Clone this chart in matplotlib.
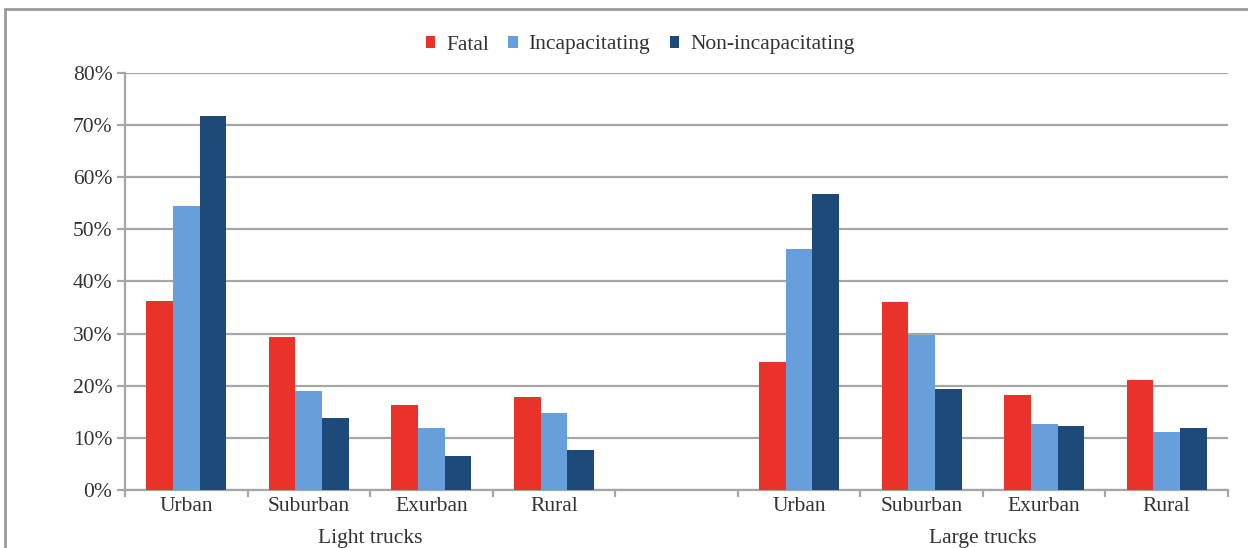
import matplotlib
matplotlib.use("Agg")
import matplotlib.pyplot as plt
from matplotlib.patches import Rectangle
import numpy as np

# Share of crashes by area type, light vs large trucks
areas = ["Urban", "Suburban", "Exurban", "Rural"]
groups = ["Light trucks", "Large trucks"]
series = ["Fatal", "Incapacitating", "Non-incapacitating"]

light_fatal = [36.3, 29.3, 16.3, 17.8]
light_incap = [54.4, 19.0, 11.8, 14.8]
light_nonincap = [71.8, 13.8, 6.6, 7.7]

large_fatal = [24.5, 36.0, 18.2, 21.1]
large_incap = [46.2, 29.7, 12.6, 11.1]
large_nonincap = [56.8, 19.3, 12.2, 11.8]

y_ticks = [0, 10, 20, 30, 40, 50, 60, 70, 80]

colors = ["#E8322A", "#679FDA", "#1D4A78"]
grid_col = "#A6A6A6"
text_col = "#333333"
fs = 15.5

plt.rcParams["font.family"] = ["Liberation Serif", "DejaVu Serif"]

fig = plt.figure(figsize=(12.48, 5.48), dpi=100)
ax = fig.add_axes([125 / 1248, 1 - 490 / 548, (1228 - 125) / 1248, (490 - 73) / 548])

# Slots: four light-truck areas, one empty slot, four large-truck areas
labels = areas + [""] + areas
values = [
    light_fatal + [0] + large_fatal,
    light_incap + [0] + large_incap,
    light_nonincap + [0] + large_nonincap,
]
x = np.arange(len(labels))
width = 0.218
offsets = [-width, 0, width]
mask = np.array([lab != "" for lab in labels])
for vals, off, col, name in zip(values, offsets, colors, series):
    v = np.array(vals, dtype=float)
    ax.bar(x[mask] + off, v[mask], width=width, color=col, label=name, zorder=3)

ax.set_xlim(-0.5, len(labels) - 0.5)
ax.set_ylim(0, 80)
ax.set_yticks(y_ticks)
ax.set_yticklabels([f"{t}%" for t in y_ticks], fontsize=fs, color=text_col)
ax.yaxis.grid(True, color=grid_col, linewidth=1.6, zorder=0)

ax.set_xticks(np.arange(-0.5, len(labels), 1.0))
ax.set_xticklabels([])
ax.set_xticks(x, minor=True)
ax.set_xticklabels(labels, minor=True, fontsize=fs, color=text_col)
ax.tick_params(axis="x", which="minor", length=0, pad=5)
ax.tick_params(axis="x", which="major", length=5, width=1.6, color=grid_col, direction="out")
ax.tick_params(axis="y", length=6, width=1.6, color=grid_col, pad=3)

for side in ["top", "right"]:
    ax.spines[side].set_visible(False)
for side in ["left", "bottom"]:
    ax.spines[side].set_color(grid_col)
    ax.spines[side].set_linewidth(1.6)

# Group labels beneath the area names
ax.text(1.5, -0.117, groups[0], transform=ax.get_xaxis_transform(),
        ha="center", va="center", fontsize=fs, color=text_col)
ax.text(6.5, -0.117, groups[1], transform=ax.get_xaxis_transform(),
        ha="center", va="center", fontsize=fs, color=text_col)

leg = fig.legend(loc="center", bbox_to_anchor=(640 / 1248, 1 - 45 / 548), ncol=3,
                 frameon=False, fontsize=fs, handlelength=0.45, handleheight=0.45,
                 handletextpad=0.5, columnspacing=0.9)
for t in leg.get_texts():
    t.set_color(text_col)

# Outer frame
fig.patches.append(Rectangle((5 / 1248, -0.01), 1.1, 1 - 9 / 548 + 0.01,
                             transform=fig.transFigure, fill=False,
                             edgecolor="#9A9A9A", linewidth=2.0))

fig.savefig("out.png", dpi=100)
